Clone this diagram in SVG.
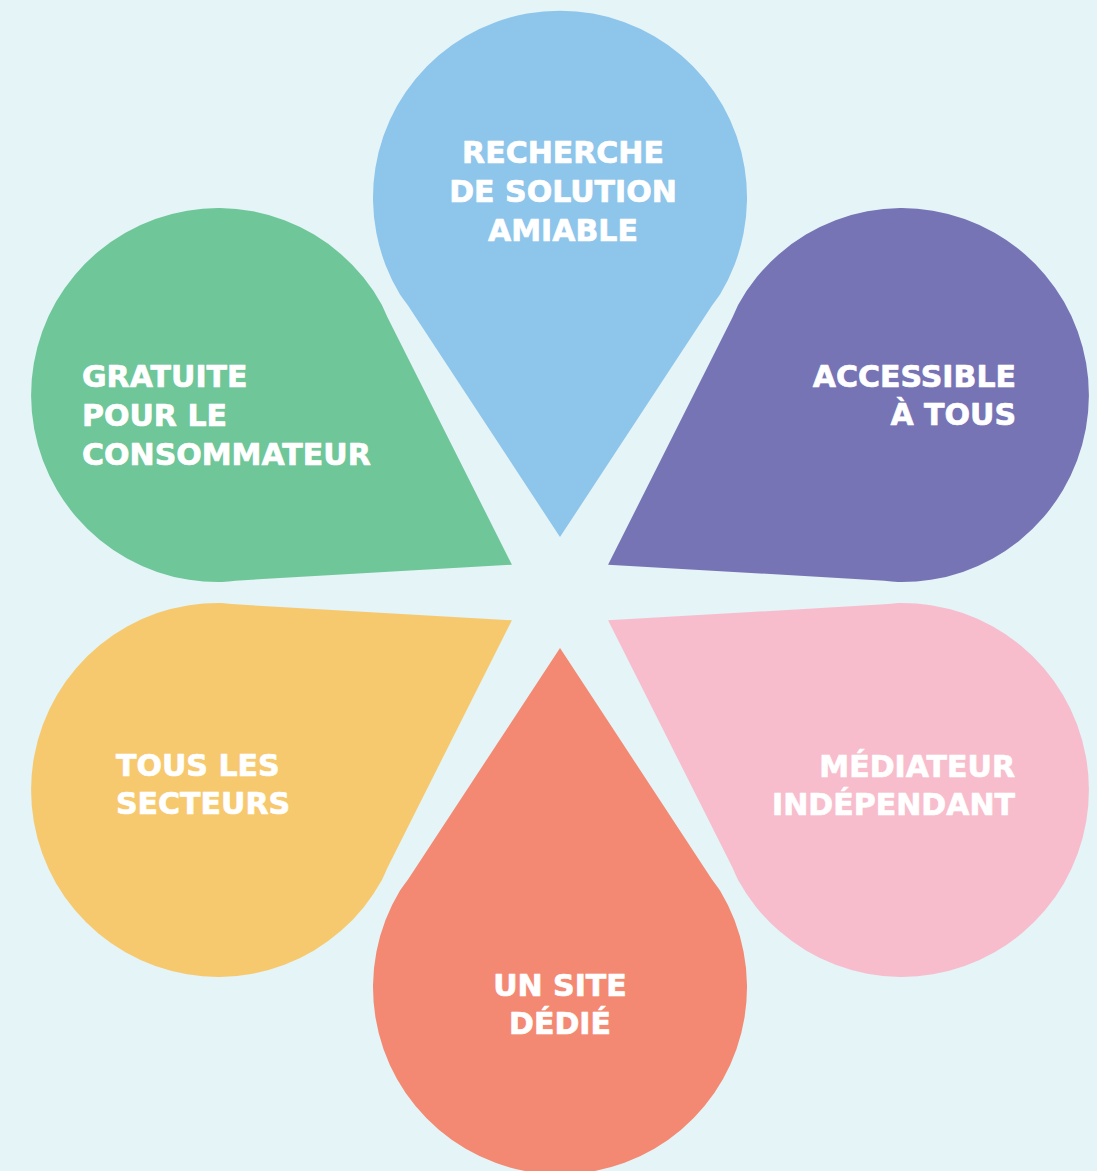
<svg xmlns="http://www.w3.org/2000/svg" width="1097" height="1171" viewBox="0 0 1097 1171">
<style>
.lbl{font-family:"DejaVu Sans","Liberation Sans",sans-serif;font-weight:bold;font-size:30px;fill:#ffffff;stroke:#ffffff;stroke-width:0.7px;stroke-linejoin:round}
.c{text-anchor:middle}.r{text-anchor:end}.l{text-anchor:start}
</style>
<defs>
<path id="petal" d="M0,-55.5 L-152,-287 Q-156.2,-292.65 -160,-298 A187,187 0 1 1 160,-298 Q156.2,-292.65 152,-287 Z"/>
</defs>
<rect x="0" y="0" width="1097" height="1171" fill="#e4f4f7"/>
<g id="petal-recherche">
<use href="#petal" transform="translate(560,592.5)" fill="#8ec5ea"/>
<text class="lbl c" x="563" y="163">RECHERCHE</text>
<text class="lbl c" x="563" y="202">DE SOLUTION</text>
<text class="lbl c" x="563" y="241">AMIABLE</text>
</g>
<g id="petal-accessible">
<use href="#petal" transform="translate(560,592.5) rotate(60)" fill="#7774b5"/>
<text class="lbl r" x="1016" y="387">ACCESSIBLE</text>
<text class="lbl r" x="1016" y="425">À TOUS</text>
</g>
<g id="petal-mediateur">
<use href="#petal" transform="translate(560,592.5) rotate(120)" fill="#f7bdcc"/>
<text class="lbl r" x="1015" y="777">MÉDIATEUR</text>
<text class="lbl r" x="1015" y="815">INDÉPENDANT</text>
</g>
<g id="petal-site">
<use href="#petal" transform="translate(560,592.5) rotate(180)" fill="#f38973"/>
<text class="lbl c" x="560" y="996">UN SITE</text>
<text class="lbl c" x="560" y="1034">DÉDIÉ</text>
</g>
<g id="petal-secteurs">
<use href="#petal" transform="translate(560,592.5) rotate(240)" fill="#f7c96e"/>
<text class="lbl l" x="116" y="776">TOUS LES</text>
<text class="lbl l" x="116" y="814">SECTEURS</text>
</g>
<g id="petal-gratuite">
<use href="#petal" transform="translate(560,592.5) rotate(300)" fill="#6ec699"/>
<text class="lbl l" x="82" y="387">GRATUITE</text>
<text class="lbl l" x="82" y="426">POUR LE</text>
<text class="lbl l" x="82" y="465">CONSOMMATEUR</text>
</g>
<g id="connectors"></g>
</svg>
